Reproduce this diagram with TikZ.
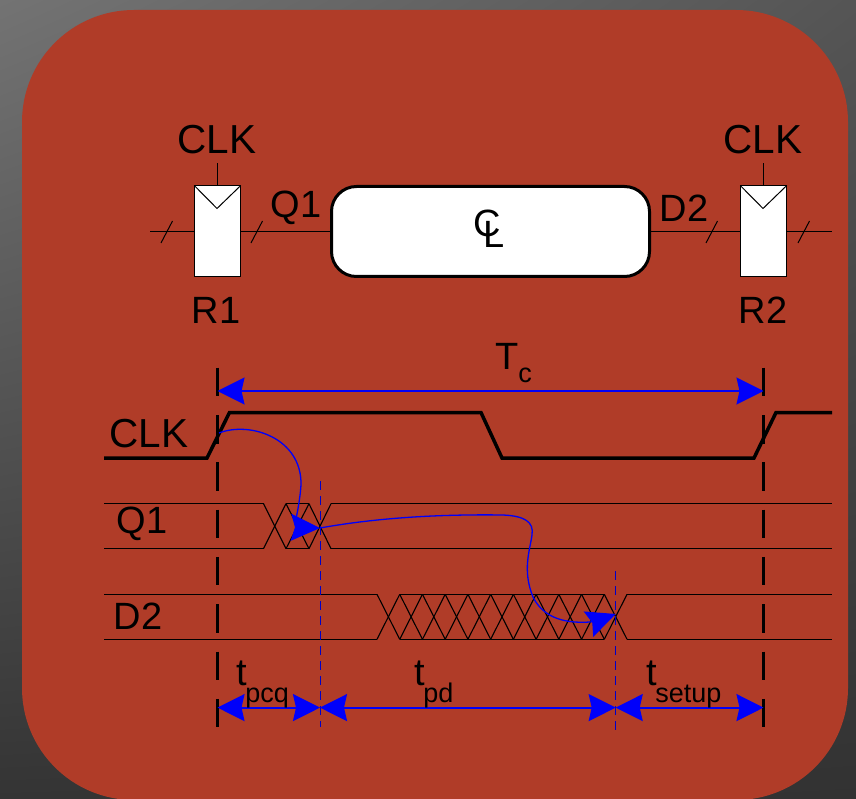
\documentclass[tikz,border=0pt]{standalone}
\usepackage{fontspec}
\setmainfont{Liberation Sans}
\usetikzlibrary{arrows.meta,shadings}

\definecolor{slidered}{RGB}{176,60,40}
\definecolor{pathblue}{RGB}{0,0,250}
\definecolor{greyul}{RGB}{115,115,115}
\definecolor{greyur}{RGB}{85,85,85}
\definecolor{greyll}{RGB}{52,52,52}
\definecolor{greylr}{RGB}{50,50,50}

\newcommand{\tlabel}[1]{t\kern-1.5pt\raisebox{-17pt}{\fontsize{27}{29}\selectfont #1}}

\tikzset{
	label text/.style={inner sep=0pt, font=\fontsize{38}{40}\selectfont},
	clk text/.style={inner sep=0pt, font=\fontsize{40.5}{42}\selectfont},
	register/.style={draw, fill=white, line width=1pt, minimum width=45.5pt, minimum height=91pt, inner sep=0pt},
	logic/.style={draw, fill=white, line width=3pt, rounded corners=25pt, minimum width=318pt, minimum height=90pt, inner sep=0pt},
	bus/.style={line width=1pt},
	wave/.style={line width=1.1pt},
	clock/.style={line width=3.5pt},
	edge mark/.style={line width=3pt, dash pattern=on 28.5pt off 18.8pt},
	cross mark/.style={pathblue!80!black, line width=1pt, dash pattern=on 9pt off 6pt},
	span/.style={pathblue, line width=2pt, {Stealth[length=27pt,width=27pt,inset=3pt]}-{Stealth[length=27pt,width=27pt,inset=3pt]}},
	flow/.style={pathblue, line width=1.3pt, -{Stealth[length=29pt,width=27pt,inset=4pt]}}
}

\begin{document}
\begin{tikzpicture}[x=1pt, y=-1pt, node distance=273pt]
	\useasboundingbox (0,0) rectangle (856,799);
	\shade[upper left=greyul, upper right=greyur, lower left=greyll, lower right=greylr] (0,0) rectangle (856,799);
	\fill[slidered] (22,10) [rounded corners=112pt] -- (848,10) -- (848,800) -- (22,800) -- cycle;

	% registers and logic
	\node[register] (r1) at (217.5,231.5) {};
	\node[logic] (cl) [right of = r1] {};
	\node[register] (r2) [right of = cl] {};
	\node[label text] (c) at (487,223) {C};
	\node[label text] (l) at (494,234) {L};

	\node[clk text] (clk1) at (217,140) {CLK};
	\node[clk text] (clk2) at (763,140) {CLK};
	\node[label text] (q1) at (296,208) {Q1};
	\node[label text] (d2) at (684,208) {D2};
	\node[label text] (r1label) at (216,310) {R1};
	\node[label text] (r2label) at (763,310) {R2};

	\coordinate (in) at (150,231.5);
	\coordinate (out) at (832,231.5);
	\draw[bus] (in) -- (r1);
	\draw[bus] (r1) -- (cl);
	\draw[bus] (cl) -- (r2);
	\draw[bus] (r2) -- (out);
	\draw[bus] (r1.north) -- ++(0,-22);
	\draw[bus] (r2.north) -- ++(0,-22);
	\draw[bus] (r1.north west) -- ++(22.75,23) -- (r1.north east);
	\draw[bus] (r2.north west) -- ++(22.75,23) -- (r2.north east);
	\foreach \x in {161,251,706,798}
		\draw[bus] (\x,243) -- ++(11.5,-22);

	% waveforms
	\node[clk text] (clklabel) at (149,434) {CLK};
	\node[label text] (q1label) at (142,524) {Q1};
	\node[label text] (d2label) at (138,616) {D2};

	\draw[clock] (104,458) -- (207,458) -- (229.5,412.5) -- (481,412.5) -- (502,458) -- (754,458) -- (776,412.5) -- (832,412.5);

	\draw[wave] (104,503.7) -- (263.5,503.7);
	\draw[wave] (104,548.7) -- (263.5,548.7);
	\draw[wave] (286,503.7) -- (309,503.7);
	\draw[wave] (286,548.7) -- (309,548.7);
	\draw[wave] (331,503.7) -- (832,503.7);
	\draw[wave] (331,548.7) -- (832,548.7);
	\foreach \a/\b in {263.5/286,286/309,309/331} {
		\draw[wave] (\a,503.7) -- (\b,548.7);
		\draw[wave] (\a,548.7) -- (\b,503.7);
	}

	\draw[wave] (104,594.3) -- (377,594.3);
	\draw[wave] (104,639.3) -- (377,639.3);
	\draw[wave] (400,594.3) -- (604,594.3);
	\draw[wave] (400,639.3) -- (604,639.3);
	\draw[wave] (627,594.3) -- (832,594.3);
	\draw[wave] (627,639.3) -- (832,639.3);
	\foreach \n in {0,...,10} {
		\draw[wave] ({377+22.73*\n},594.3) -- ({377+22.73*(\n+1)},639.3);
		\draw[wave] ({377+22.73*\n},639.3) -- ({377+22.73*(\n+1)},594.3);
	}

	% timing marks
	\draw[edge mark] (217.5,367.7) -- (217.5,727.5);
	\draw[edge mark] (763.5,367.7) -- (763.5,727.5);
	\draw[cross mark] (320,481) -- (320,727);
	\draw[cross mark] (615.7,571) -- (615.7,731);

	\coordinate (launch) at (217.5,391);
	\coordinate (capture) at (763.5,391);
	\coordinate (start) at (217.5,707.6);
	\coordinate (valid) at (320,707.6);
	\coordinate (ready) at (615.7,707.6);
	\coordinate (stop) at (763.5,707.6);
	\draw[span] (launch) -- (capture);
	\draw[span] (start) -- (valid);
	\draw[span] (valid) -- (ready);
	\draw[span] (ready) -- (stop);

	\node[label text, anchor=base west] (tc) at (495,369) {T\raisebox{-13pt}{\fontsize{27}{29}\selectfont c}};
	\node[label text, anchor=base west] (tpcq) at (236,685) {\tlabel{pcq}};
	\node[label text, anchor=base west] (tpd) at (414,685) {\tlabel{pd}};
	\node[label text, anchor=base west] (tsetup) at (646,685) {\tlabel{setup}};

	% critical path
	\coordinate (clkrise) at (219,433);
	\coordinate (q1cross) at (320,528);
	\coordinate (d2cross) at (615.7,614);
	\draw[flow] (clkrise) .. controls (250,421) and (302,438) .. (301,485) .. controls (300,500) and (297,514) .. (295,524) .. controls (296,527) and (300,527.5) .. (q1cross);
	\draw[flow] (q1cross) .. controls (370,519) and (430,514) .. (503,515) .. controls (525,516) and (534,522) .. (532,535) .. controls (530,550) and (522,570) .. (533,597) .. controls (542,615) and (560,624) .. (590,622) .. controls (595,621.5) and (605,618) .. (d2cross);
\end{tikzpicture}
\end{document}
